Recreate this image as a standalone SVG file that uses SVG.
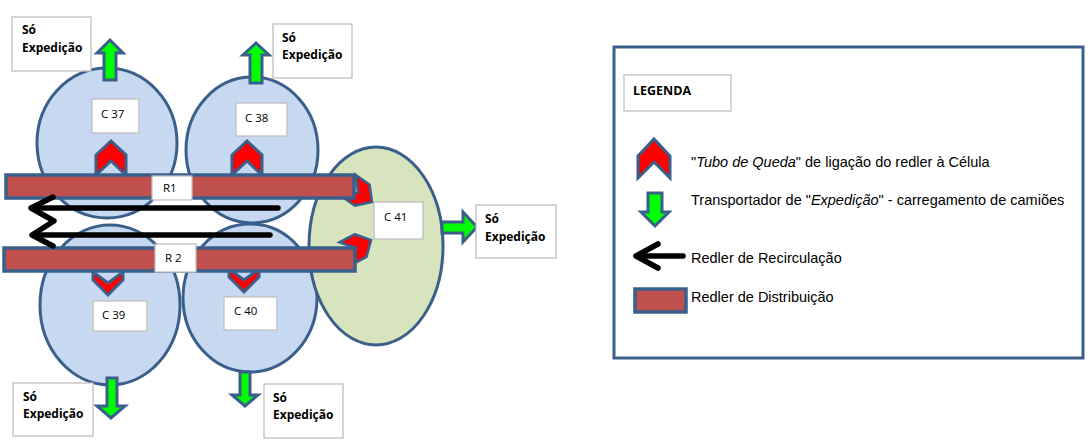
<svg xmlns="http://www.w3.org/2000/svg" width="1090" height="443" viewBox="0 0 1090 443">
<style>
.cell{fill:#c6d9f1;stroke:#3a5f8b;stroke-width:3}
.cell41{fill:#d7e4bd;stroke:#3a5f8b;stroke-width:3}
.bar{fill:#c0504d;stroke:#3a5f8b;stroke-width:3.5}
.chev{fill:#ff0000;stroke:#3a5f8b;stroke-width:3;stroke-linejoin:miter}
.green{fill:#00ff00;stroke:#3a5f8b;stroke-width:3}
.lbl{fill:#ffffff;stroke:#bfbfbf;stroke-width:1.3}
.rec{fill:none;stroke:#000;stroke-width:5.5;stroke-linecap:round;stroke-linejoin:round}
.tb{font-family:"Open Sans","Liberation Sans",sans-serif;font-weight:bold;font-size:12px;fill:#000}
.tc{font-family:"Open Sans","Liberation Sans",sans-serif;font-size:11.5px;fill:#000}
.tl{font-family:"Liberation Sans",Arial,sans-serif;font-size:14.5px;fill:#000}
</style>
<defs>
<polygon id="chevUp" points="-15,14 0,0 15,14 15,34 0,20 -15,34"/>
<polygon id="chevDown" points="-15,-22 -15,-14 0,1 15,-14 15,-22 0,-11"/>
</defs>

<g id="cells">
<g id="C37"><ellipse class="cell" cx="107" cy="143" rx="70" ry="75"/></g>
<g id="C38"><ellipse class="cell" cx="252" cy="150" rx="66" ry="73"/></g>
<g id="C39"><ellipse class="cell" cx="110" cy="305" rx="70" ry="80"/></g>
<g id="C40"><ellipse class="cell" cx="250" cy="298" rx="67" ry="74"/></g>
<g id="C41"><ellipse class="cell41" cx="376" cy="246" rx="67" ry="99"/></g>
</g>

<g id="chutes">
<use href="#chevUp" class="chev" x="111" y="141"/>
<use href="#chevUp" class="chev" x="247" y="141"/>
<use href="#chevDown" class="chev" x="108" y="294"/>
<use href="#chevDown" class="chev" x="244" y="291"/>
<polygon class="chev" transform="translate(372,202) rotate(125) scale(0.85)" points="-15,14 0,0 15,14 15,34 0,20 -15,34"/>
<polygon class="chev" transform="translate(371,240) rotate(62) scale(0.85)" points="-15,14 0,0 15,14 15,34 0,20 -15,34"/>
</g>

<g id="R1">
<rect class="bar" x="6" y="175" width="348" height="23"/>
<rect class="lbl" x="152" y="176" width="40" height="24"/>
<text class="tc" x="163" y="192">R1</text>
</g>
<g id="R2">
<rect class="bar" x="4" y="248" width="351" height="23"/>
<rect class="lbl" x="155" y="244" width="41" height="28"/>
<text class="tc" x="165" y="262">R 2</text>
</g>

<g id="recirculation">
<polyline class="rec" points="278,208 33,208"/>
<polyline class="rec" points="53,197 31,208 54,221 32,235 53,246"/>
<polyline class="rec" points="270,235 35,235"/>
</g>

<g id="labels">
<g id="L37"><rect class="lbl" x="92" y="99" width="47" height="34"/><text class="tc" x="101" y="118">C 37</text></g>
<g id="L38"><rect class="lbl" x="236" y="103" width="51" height="33"/><text class="tc" x="245" y="122">C 38</text></g>
<g id="L39"><rect class="lbl" x="93" y="301" width="54" height="30"/><text class="tc" x="102" y="319">C 39</text></g>
<g id="L40"><rect class="lbl" x="224" y="297" width="53" height="33"/><text class="tc" x="234" y="315">C 40</text></g>
<g id="L41"><rect class="lbl" x="374" y="202" width="49" height="37"/><text class="tc" x="384" y="221">C 41</text></g>
</g>

<g id="expedition-arrows">
<polygon class="green" points="104,80 104,53 97,53 110,40 123,53 116,53 116,80"/>
<polygon class="green" points="250,83 250,55 243,55 256,43 269,55 262,55 262,83"/>
<polygon class="green" points="107,378 117,378 117,406 125,406 111,418 97,406 107,406"/>
<polygon class="green" points="240,372 250,372 250,395 258,395 245,406 232,395 240,395"/>
<polygon class="green" points="442,222 463,222 463,212 477,227 463,242 463,233 442,233"/>
</g>

<g id="exp-boxes">
<g id="E37"><rect class="lbl" x="12" y="17" width="79" height="54"/><text class="tb" x="22" y="34">Só</text><text class="tb" x="22" y="52">Expedição</text></g>
<g id="E38"><rect class="lbl" x="273" y="24" width="79" height="54"/><text class="tb" x="282" y="42">Só</text><text class="tb" x="282" y="59">Expedição</text></g>
<g id="E41"><rect class="lbl" x="476" y="205" width="80" height="53"/><text class="tb" x="485" y="223">Só</text><text class="tb" x="485" y="241">Expedição</text></g>
<g id="E39"><rect class="lbl" x="13" y="383" width="80" height="53"/><text class="tb" x="23" y="401">Só</text><text class="tb" x="23" y="418">Expedição</text></g>
<g id="E40"><rect class="lbl" x="264" y="384" width="79" height="54"/><text class="tb" x="273" y="402">Só</text><text class="tb" x="273" y="419">Expedição</text></g>
</g>

<g id="legend">
<rect x="614" y="47" width="469" height="311" fill="#ffffff" stroke="#3a5f8b" stroke-width="3"/>
<rect class="lbl" x="624" y="75" width="107" height="36"/>
<text class="tb" x="633" y="95" style="font-size:12.5px">LEGENDA</text>
<polygon class="chev" points="638,156 654,139 670,156 670,178 654,162 638,178"/>
<text class="tl" x="691" y="167">"<tspan font-style="italic">Tubo de Queda</tspan>" de ligação do redler à Célula</text>
<polygon class="green" points="648,193 662,193 662,212 669,212 655,226 641,212 648,212"/>
<text class="tl" x="691" y="205">Transportador de "<tspan font-style="italic">Expedição</tspan>" - carregamento de camiões</text>
<polyline class="rec" points="683,256 640,256"/>
<polyline class="rec" points="658,244 636,256 658,268"/>
<text class="tl" x="691" y="263">Redler de Recirculação</text>
<rect class="bar" x="635" y="289" width="51" height="23"/>
<text class="tl" x="691" y="302">Redler de Distribuição</text>
</g>
</svg>
